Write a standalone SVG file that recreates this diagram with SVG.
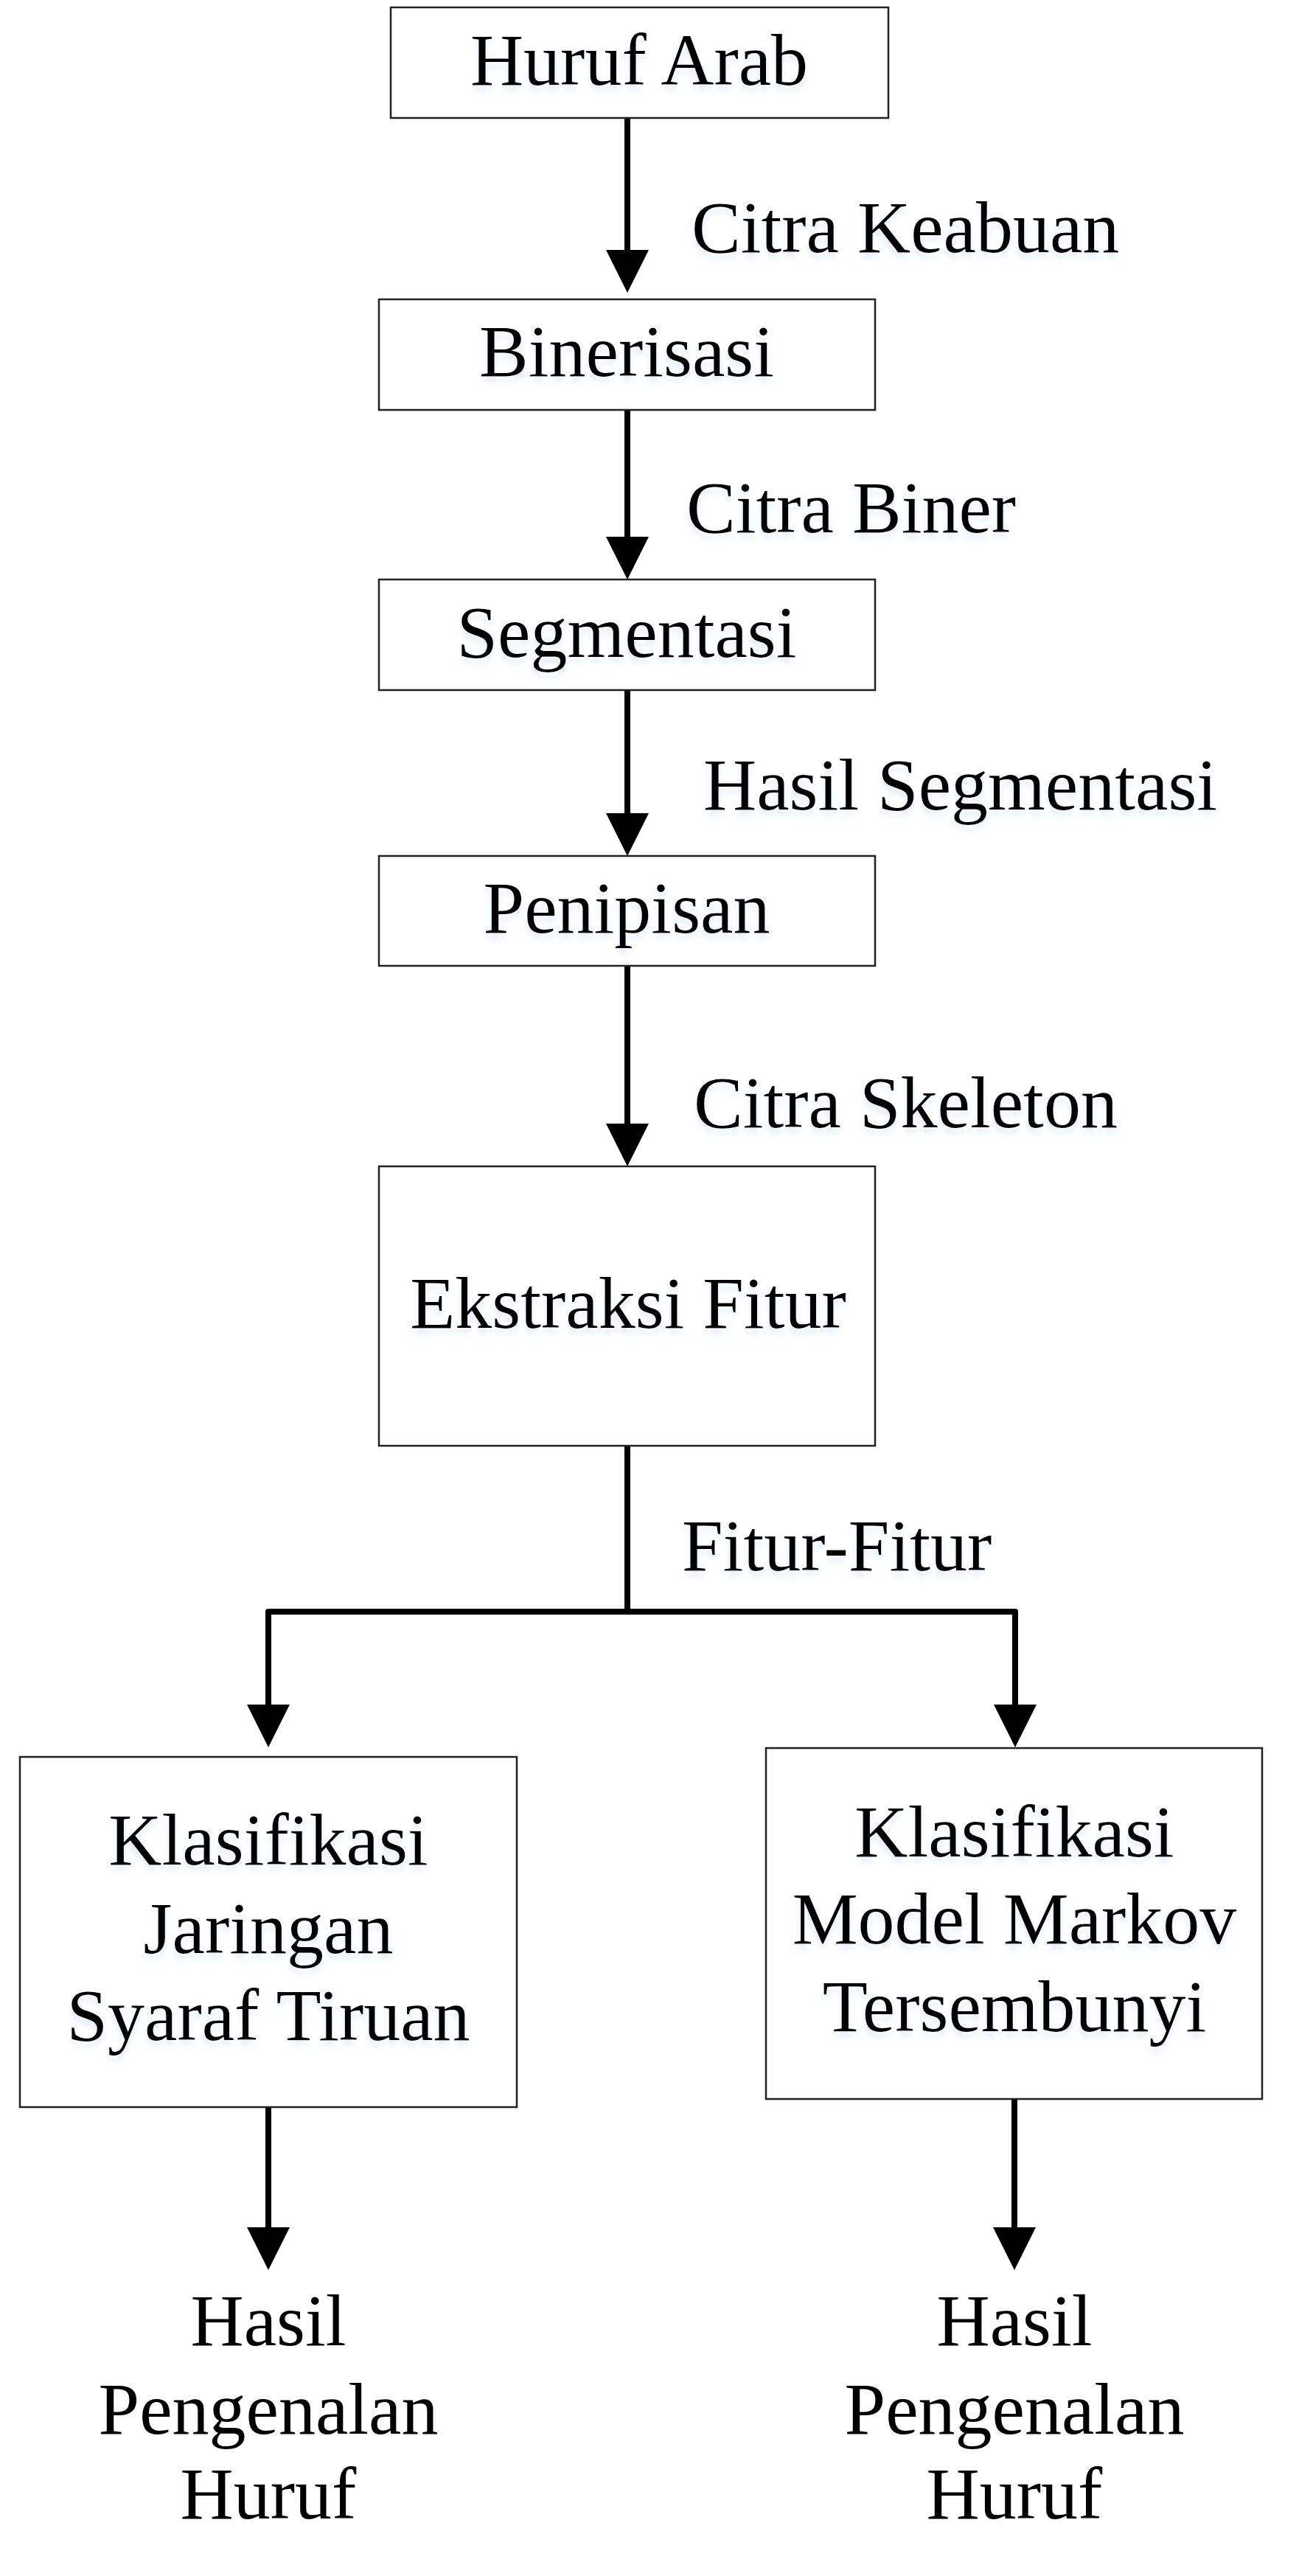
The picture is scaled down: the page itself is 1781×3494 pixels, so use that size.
<svg xmlns="http://www.w3.org/2000/svg" width="1781" height="3494" viewBox="0 0 1781 3494">
<defs>
<style>
.box{fill:#fff;stroke:#222;stroke-width:2.5}
.t{font-family:"Liberation Serif","Times New Roman",serif;font-size:100px;fill:#000}
.c{text-anchor:middle}
.ln{fill:none;stroke:#000;stroke-width:8;stroke-linecap:round;stroke-linejoin:round}
.ah{fill:#000}
</style>
<filter id="sh" x="-10%" y="-10%" width="120%" height="140%">
<feDropShadow dx="0" dy="8" stdDeviation="4" flood-color="#c9d8ef" flood-opacity="0.45"/>
</filter>
</defs>
<rect width="1781" height="3494" fill="#fff"/>
<g id="connectors">
<line class="ln" x1="851" y1="160" x2="851" y2="345"/>
<polygon class="ah" points="822,339 880,339 851,397"/>
<line class="ln" x1="851" y1="556" x2="851" y2="734"/>
<polygon class="ah" points="822,728 880,728 851,786"/>
<line class="ln" x1="851" y1="936" x2="851" y2="1109"/>
<polygon class="ah" points="822,1103 880,1103 851,1161"/>
<line class="ln" x1="851" y1="1310" x2="851" y2="1530"/>
<polygon class="ah" points="822,1524 880,1524 851,1582"/>
<line class="ln" x1="851" y1="1961" x2="851" y2="2186"/>
<polyline class="ln" points="364,2318 364,2186 1377,2186 1377,2318"/>
<polygon class="ah" points="335,2312 393,2312 364,2370"/>
<polygon class="ah" points="1348,2312 1406,2312 1377,2370"/>
<line class="ln" x1="364" y1="2858" x2="364" y2="3027"/>
<polygon class="ah" points="335,3021 393,3021 364,3079"/>
<line class="ln" x1="1376" y1="2847" x2="1376" y2="3027"/>
<polygon class="ah" points="1347,3021 1405,3021 1376,3079"/>
</g>
<g id="lbl-keabuan"><text class="t" x="938" y="342" filter="url(#sh)">Citra Keabuan</text></g>
<g id="lbl-biner"><text class="t" x="931" y="722" filter="url(#sh)">Citra Biner</text></g>
<g id="lbl-segmentasi"><text class="t" x="954" y="1098" filter="url(#sh)">Hasil Segmentasi</text></g>
<g id="lbl-skeleton"><text class="t" x="941" y="1529" filter="url(#sh)">Citra Skeleton</text></g>
<g id="lbl-fitur"><text class="t" x="925" y="2130" filter="url(#sh)">Fitur-Fitur</text></g>
<g id="n-huruf-arab">
<rect class="box" x="530" y="10" width="675" height="150"/>
<text class="t c" x="867" y="115" filter="url(#sh)">Huruf Arab</text>
</g>
<g id="n-binerisasi">
<rect class="box" x="514" y="406" width="673" height="150"/>
<text class="t c" x="850" y="510" filter="url(#sh)">Binerisasi</text>
</g>
<g id="n-segmentasi">
<rect class="box" x="514" y="786" width="673" height="150"/>
<text class="t c" x="850" y="891" filter="url(#sh)">Segmentasi</text>
</g>
<g id="n-penipisan">
<rect class="box" x="514" y="1161" width="673" height="149"/>
<text class="t c" x="850" y="1265" filter="url(#sh)">Penipisan</text>
</g>
<g id="n-ekstraksi">
<rect class="box" x="514" y="1582" width="673" height="379"/>
<text class="t c" x="852" y="1801" filter="url(#sh)">Ekstraksi Fitur</text>
</g>
<g id="n-jst">
<rect class="box" x="27" y="2383" width="674" height="475"/>
<text class="t c" x="364" y="2529" filter="url(#sh)">Klasifikasi</text>
<text class="t c" x="364" y="2649" filter="url(#sh)">Jaringan</text>
<text class="t c" x="364" y="2767" filter="url(#sh)">Syaraf Tiruan</text>
</g>
<g id="n-hmm">
<rect class="box" x="1039" y="2371" width="673" height="476"/>
<text class="t c" x="1376" y="2518" filter="url(#sh)">Klasifikasi</text>
<text class="t c" x="1376" y="2636" filter="url(#sh)">Model Markov</text>
<text class="t c" x="1376" y="2755" filter="url(#sh)">Tersembunyi</text>
</g>
<g id="n-hasil-jst">
<text class="t c" x="364" y="3181">Hasil</text>
<text class="t c" x="364" y="3301">Pengenalan</text>
<text class="t c" x="364" y="3416">Huruf</text>
</g>
<g id="n-hasil-hmm">
<text class="t c" x="1376" y="3181">Hasil</text>
<text class="t c" x="1376" y="3301">Pengenalan</text>
<text class="t c" x="1376" y="3416">Huruf</text>
</g>
</svg>
